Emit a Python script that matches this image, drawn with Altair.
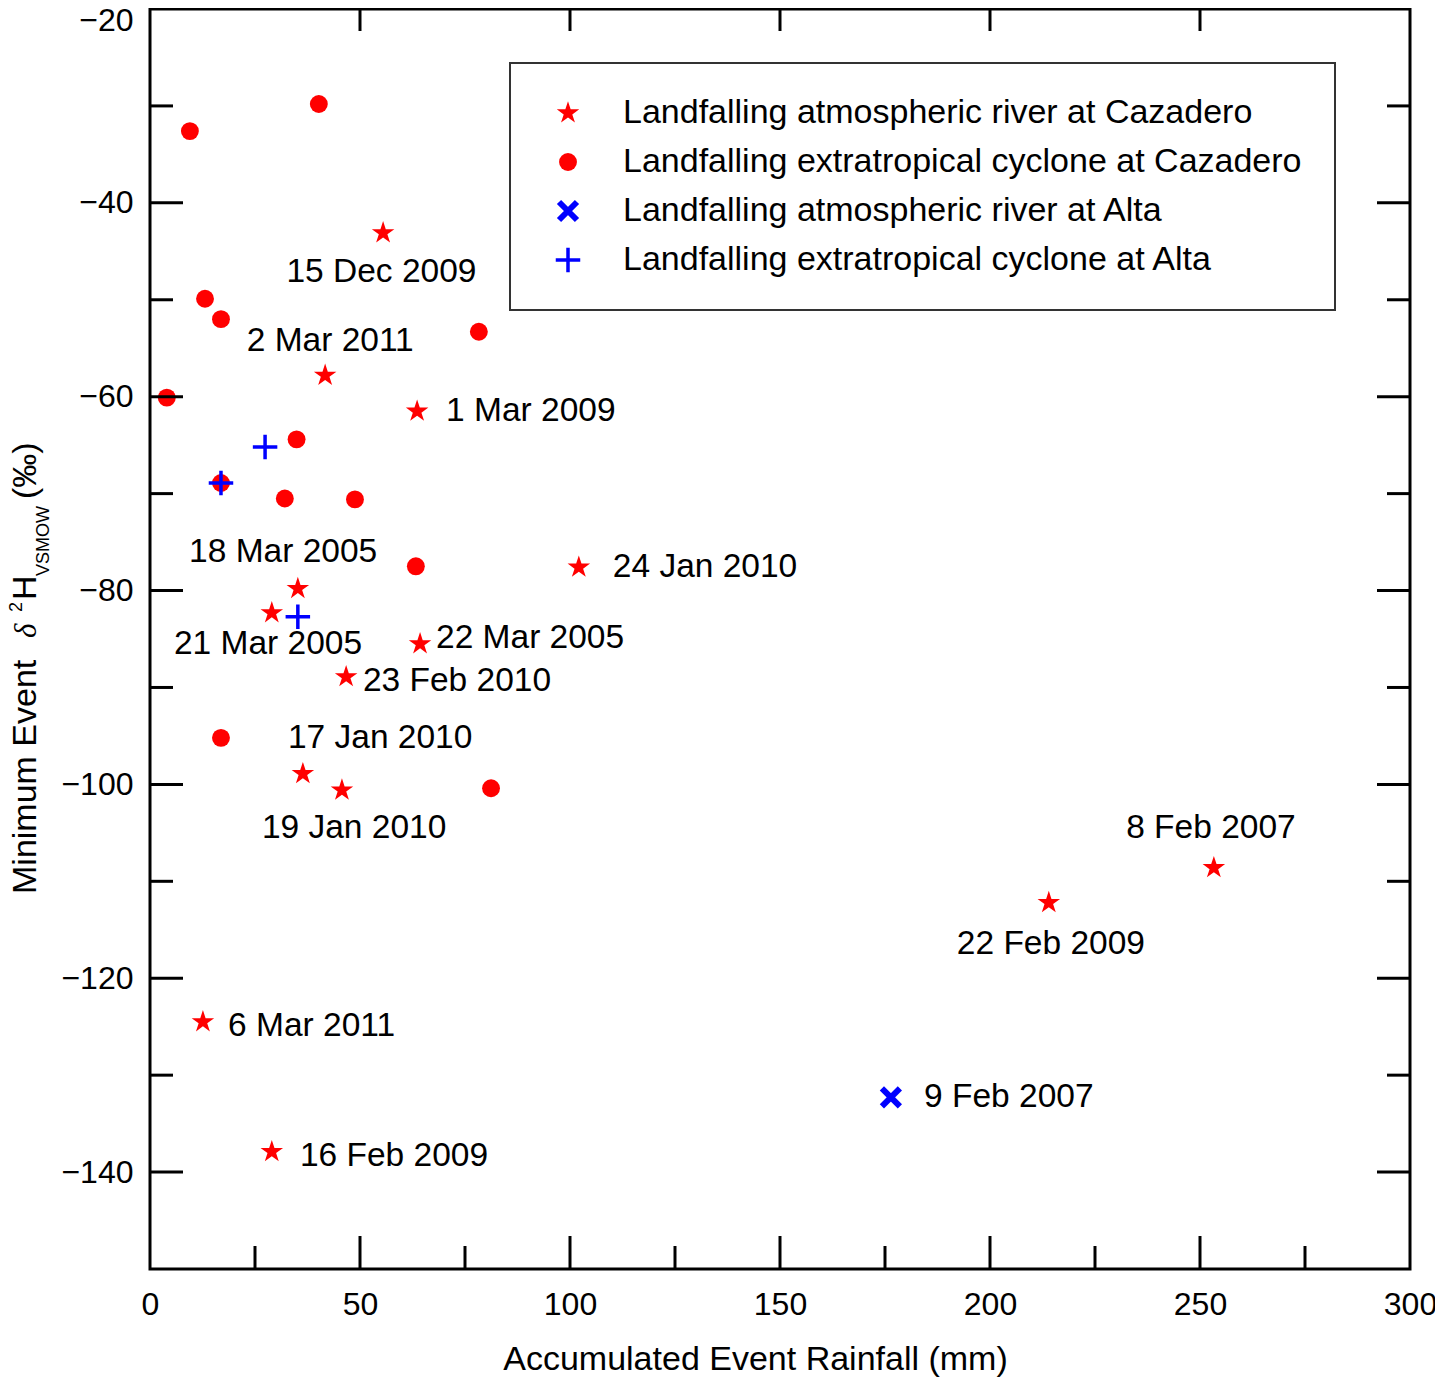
import altair as alt
import pandas as pd

FONT = "Liberation Sans"
FS_TICK = 32
FS_TEXT = 33.5
FS_LEG = 34

# ---------------- data ----------------
categories = [
    "Landfalling atmospheric river at Cazadero",
    "Landfalling extratropical cyclone at Cazadero",
    "Landfalling atmospheric river at Alta",
    "Landfalling extratropical cyclone at Alta",
]

# atmospheric river at Cazadero (red stars)
ar_caz_x = [55.5, 41.7, 63.6, 102.1, 35.2, 29.0, 64.3, 46.7, 36.4, 45.7, 253.3, 214.0, 12.6, 29.0]
ar_caz_y = [-43.1, -57.8, -61.5, -77.6, -79.8, -82.3, -85.5, -88.9, -98.9, -100.6, -108.6, -112.2, -124.5, -137.9]

# extratropical cyclone at Cazadero (red circles)
etc_caz_x = [40.2, 9.5, 13.1, 16.9, 78.3, 4.0, 34.9, 16.9, 32.1, 48.8, 63.3, 16.9, 81.2]
etc_caz_y = [-29.8, -32.6, -49.9, -52.0, -53.3, -60.1, -64.4, -68.9, -70.5, -70.6, -77.5, -95.2, -100.4]

# atmospheric river at Alta (blue x)
ar_alta_x = [176.4]
ar_alta_y = [-132.3]

# extratropical cyclone at Alta (blue +)
etc_alta_x = [27.4, 16.9, 35.2]
etc_alta_y = [-65.2, -68.9, -82.7]

# event date annotations: text, anchor x, anchor y, alignment
date_text = ["15 Dec 2009", "2 Mar 2011", "1 Mar 2009", "24 Jan 2010", "18 Mar 2005",
             "21 Mar 2005", "22 Mar 2005", "23 Feb 2010", "17 Jan 2010", "19 Jan 2010",
             "8 Feb 2007", "22 Feb 2009", "6 Mar 2011", "16 Feb 2009", "9 Feb 2007"]
date_x = [55.1, 42.9, 70.5, 110.2, 31.7, 28.1, 68.1, 50.7, 54.8, 48.6, 252.6, 214.5, 18.6, 35.7, 184.3]
date_y = [-47.1, -54.3, -61.5, -77.6, -76.0, -85.5, -84.9, -89.3, -95.2, -104.5, -104.5, -116.5, -124.9, -138.3, -132.3]
date_align = ["center", "center", "left", "left", "center", "center", "left", "left", "center",
              "center", "center", "center", "left", "left", "left"]

# axis ticks / labels
x_labels = [0, 50, 100, 150, 200, 250, 300]
x_major = [50, 100, 150, 200, 250]
x_minor = [25, 75, 125, 175, 225, 275]
y_labels = [-140, -120, -100, -80, -60, -40, -20]
y_major = [-140, -120, -100, -80, -60, -40]
y_minor = [-130, -110, -90, -70, -50, -30]

# ---------------- tables ----------------
pts = pd.concat([
    pd.DataFrame({"x": etc_caz_x, "y": etc_caz_y, "cat": categories[1]}),
    pd.DataFrame({"x": ar_caz_x, "y": ar_caz_y, "cat": categories[0]}),
    pd.DataFrame({"x": ar_alta_x, "y": ar_alta_y, "cat": categories[2]}),
    pd.DataFrame({"x": etc_alta_x, "y": etc_alta_y, "cat": categories[3]}),
], ignore_index=True)

labels = pd.DataFrame({"t": date_text, "lx": date_x, "ly": date_y, "al": date_align})

W, H = 1260, 1260
xs = alt.Scale(domain=[0, 300], nice=False, zero=False)
ys = alt.Scale(domain=[-150, -20], nice=False, zero=False)

STAR = ("M0,-1L0.2245,-0.309L0.951,-0.309L0.363,0.118L0.588,0.809L0,0.382"
        "L-0.588,0.809L-0.363,0.118L-0.951,-0.309L-0.2245,-0.309Z")
XSHAPE = "M-1,-1L1,1M-1,1L1,-1"
PLUS = "M-1,0L1,0M0,-1L0,1"

leg = alt.Legend(title=None, orient="none", legendX=360, legendY=54,
                 labelFont=FONT, labelFontSize=FS_LEG, labelColor="black", labelLimit=2000,
                 strokeColor="#333333", fillColor="white", padding=33, rowPadding=15,
                 clipHeight=34, symbolOffset=8, labelOffset=38, symbolOpacity=1)

xaxis = alt.Axis(values=x_labels, ticks=False, tickSize=0, domain=False, grid=False,
                 labelFont=FONT, labelFontSize=FS_TICK, labelColor="black", labelPadding=20,
                 labelFlush=False, labelOverlap=False,
                 title="Accumulated Event Rainfall (mm)", titleFont=FONT, titleFontSize=FS_LEG,
                 titleFontWeight="normal", titleColor="black", titleX=605, titleY=90,
                 titleBaseline="middle", titleAlign="center")
yaxis = alt.Axis(values=y_labels, ticks=False, tickSize=0, domain=False, grid=False,
                 labelFont=FONT, labelFontSize=FS_TICK, labelColor="black", labelPadding=17,
                 labelFlush=False, labelOverlap=False,
                 labelOffset={"condition": {"test": "datum.value === -20", "value": 11}, "value": 0},
                 title=None)


def X(field):
    return alt.X(field, scale=xs, axis=xaxis)


def Y(field):
    return alt.Y(field, scale=ys, axis=yaxis)


points = alt.Chart(pts).mark_point(opacity=1).encode(
    x=X("x:Q"),
    y=Y("y:Q"),
    shape=alt.Shape("cat:N", scale=alt.Scale(domain=categories, range=[STAR, "circle", XSHAPE, PLUS]), legend=leg),
    fill=alt.Fill("cat:N", scale=alt.Scale(domain=categories, range=["#ff0000", "#ff0000", "transparent", "transparent"]), legend=leg),
    stroke=alt.Stroke("cat:N", scale=alt.Scale(domain=categories, range=["transparent", "transparent", "#0000ff", "#0000ff"]), legend=leg),
    size=alt.Size("cat:N", scale=alt.Scale(type="ordinal", domain=categories, range=[560, 320, 324, 600]), legend=leg),
    strokeWidth=alt.StrokeWidth("cat:N", scale=alt.Scale(type="ordinal", domain=categories, range=[0, 0, 6, 3.5]), legend=leg),
)

txt_c = alt.Chart(labels).transform_filter("datum.al === 'center'").mark_text(
    font=FONT, fontSize=FS_TEXT, color="black", align="center", baseline="middle").encode(
    x=X("lx:Q"), y=Y("ly:Q"), text="t:N")
txt_l = alt.Chart(labels).transform_filter("datum.al === 'left'").mark_text(
    font=FONT, fontSize=FS_TEXT, color="black", align="left", baseline="middle").encode(
    x=X("lx:Q"), y=Y("ly:Q"), text="t:N")


def hticks(vals, x0, x1):
    return alt.Chart(pd.DataFrame({"v": vals})).mark_rule(color="black", strokeWidth=3).encode(
        y=Y("v:Q"), x=alt.value(x0), x2=alt.value(x1))


def vticks(vals, y0, y1):
    return alt.Chart(pd.DataFrame({"v": vals})).mark_rule(color="black", strokeWidth=3).encode(
        x=X("v:Q"), y=alt.value(y0), y2=alt.value(y1))


tick_layers = [
    hticks(y_major, 0, 33), hticks(y_minor, 0, 23),
    hticks(y_major, W - 33, W), hticks(y_minor, W - 23, W),
    vticks(x_major, H, H - 33), vticks(x_minor, H, H - 23),
    vticks(x_major, 0, 22),
]


def ttl(s, x, y, size=34, style="normal", font=FONT):
    return alt.Chart(pd.DataFrame({"s": [s]})).mark_text(
        font=font, fontSize=size, fontStyle=style, color="black", angle=270,
        align="left", baseline="alphabetic").encode(
        text="s:N", x=alt.value(x), y=alt.value(y))


title_layers = [
    ttl("Minimum Event", -114, 885),
    ttl("\u03b4", -114, 629, size=31, style="italic", font="Liberation Serif"),
    ttl("2", -128, 603, size=18),
    ttl("H", -114, 591),
    ttl("VSMOW", -101, 567, size=18),
    ttl("(\u2030)", -114, 490),
]

chart = alt.layer(points, *tick_layers, txt_c, txt_l, *title_layers).properties(
    width=W, height=H,
    autosize=alt.AutoSizeParams(type="none"),
    padding={"left": 142, "top": 1, "right": 25, "bottom": 110},
).configure_view(stroke="black", strokeWidth=3).configure_legend(strokeWidth=2)

chart.save("out.html", embed_options={"renderer": "svg", "actions": False})
